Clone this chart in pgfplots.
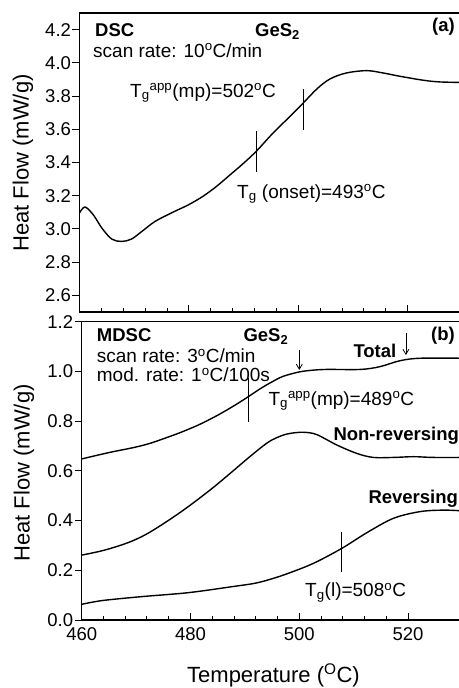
\documentclass[border=0pt]{standalone}
\usepackage{pgfplots}
\pgfplotsset{compat=1.18}
\usepackage{fontspec}
\setmainfont{Liberation Sans}
\usetikzlibrary{arrows.meta}
\newcommand{\fs}[1]{\fontsize{#1}{#1}\selectfont}
\pgfplotsset{
  mystyle/.style={
    scale only axis,
    xmin=460, xmax=530,
    axis line style={line width=1.4pt},
    xtick={460,480,500,520},
    minor x tick num=4,
    xtick pos=bottom, ytick pos=left,
    tick align=inside,
    major tick length=7pt,
    minor tick length=4.5pt,
    every tick/.style={black, line width=1pt},
    ytick style={xshift=-7pt},
    tick label style={font=\fs{18.5}},
    /pgf/number format/assume math mode=true,
    yticklabel style={xshift=-5pt, /pgf/number format/.cd, fixed, fixed zerofill, precision=1},
    xticklabel style={yshift=-4pt},
    clip=false,
  },
  curve/.style={black, line width=1.4pt, smooth, tension=0.55, no markers},
  marker/.style={black, line width=1.1pt, no markers},
  arr/.style={black, line width=0.8pt, no markers, -{Straight Barb[length=5pt,width=6pt]}},
}
\begin{document}
\begin{tikzpicture}
\useasboundingbox (0pt,0pt) rectangle (458pt,-688pt);
% ---------- panel (a)
\begin{axis}[mystyle, at={(79.5pt,-312pt)}, anchor=south west,
  width=382.9pt, height=299pt, ymin=2.5, ymax=4.3,
  ytick={2.6,2.8,3.0,3.2,3.4,3.6,3.8,4.0,4.2}, xticklabels={}]
\addplot[curve] coordinates {
(460,3.096)(461,3.132)(462.5,3.086)(464.1,3.005)(465.9,2.939)(467.7,2.925)
(469.5,2.939)(471.4,2.985)(473.8,3.045)(476.9,3.098)(479.9,3.145)(482.5,3.195)
(485,3.255)(487.5,3.325)(489.8,3.39)(492.3,3.467)(495.4,3.578)(498.5,3.678)
(500.9,3.758)(503.4,3.843)(505.8,3.903)(508.8,3.939)(512.5,3.953)(515.5,3.939)
(518.6,3.919)(522.9,3.895)(525.9,3.885)(530,3.882)};
\addplot[marker] coordinates {(492.3,3.34)(492.3,3.59)};
\addplot[marker] coordinates {(500.9,3.598)(500.9,3.843)};
\end{axis}
% ---------- panel (b)
\begin{axis}[mystyle, at={(81.7pt,-620pt)}, anchor=south west,
  width=380.8pt, height=298.3pt, ymin=0, ymax=1.2,
  ytick={0,0.2,0.4,0.6,0.8,1.0,1.2}]
% Total
\addplot[curve] coordinates {
(460,0.648)(464.9,0.673)(469.8,0.695)(472.6,0.711)(475,0.729)(478,0.753)
(481.5,0.785)(484.5,0.818)(486.7,0.845)(488.6,0.870)(490.6,0.898)(492.8,0.930)
(494.9,0.957)(497,0.980)(499.8,0.997)(502,1.004)(505,1.008)(511.2,1.008)
(514.8,1.019)(518.5,1.043)(522.2,1.053)(530,1.053)};
% Non-reversing
\addplot[curve] coordinates {
(460,0.261)(464,0.280)(468,0.307)(471,0.335)(474,0.373)(478.7,0.442)(483.6,0.523)
(487.3,0.590)(490.9,0.657)(494,0.711)(495.8,0.733)(497.7,0.748)(499.5,0.754)(501,0.755)
(503.2,0.746)(506.9,0.704)(510.6,0.670)(513.6,0.654)(517.3,0.654)(521,0.657)
(524.6,0.654)(530,0.654)};
% Reversing
\addplot[curve] coordinates {
(460,0.063)(463.7,0.078)(471,0.094)(479.6,0.110)(487.6,0.134)(491.9,0.148)
(495,0.166)(498,0.188)(502.6,0.228)(507.8,0.288)(512.4,0.351)(517.3,0.409)
(522.2,0.436)(526.5,0.442)(530,0.439)};
\addplot[marker] coordinates {(490.6,0.798)(490.6,0.972)};
\addplot[marker] coordinates {(507.8,0.194)(507.8,0.355)};
\addplot[arr] coordinates {(500,1.085)(500,1.006)};
\addplot[arr] coordinates {(519.6,1.153)(519.6,1.066)};
\end{axis}
% ---------- texts panel (a)
\node[anchor=base west, inner sep=0, font=\fs{18.5}\bfseries] at (95pt,-36pt) {DSC};
\node[anchor=base west, inner sep=0, font=\fs{18.5}\bfseries] at (255pt,-36pt) {GeS\textsubscript{2}};
\node[anchor=base east, inner sep=0, font=\fs{18.5}\bfseries] at (455pt,-31pt) {(a)};
\node[anchor=base west, inner sep=0, font=\fs{19}] at (93pt,-57pt) {scan rate: 10\textsuperscript{o}C/min};
\node[anchor=base west, inner sep=0, font=\fs{19}] at (130pt,-97pt) {T\textsubscript{g}\textsuperscript{app}(mp)=502\textsuperscript{o}C};
\node[anchor=base west, inner sep=0, font=\fs{19}] at (237pt,-198pt) {T\textsubscript{g} (onset)=493\textsuperscript{o}C};
% ---------- texts panel (b)
\node[anchor=base west, inner sep=0, font=\fs{18.5}\bfseries] at (96.7pt,-341.7pt) {MDSC};
\node[anchor=base west, inner sep=0, font=\fs{18.5}\bfseries] at (243.3pt,-341.7pt) {GeS\textsubscript{2}};
\node[anchor=base east, inner sep=0, font=\fs{18.5}\bfseries] at (455pt,-340pt) {(b)};
\node[anchor=base west, inner sep=0, font=\fs{18.5}\bfseries] at (353.3pt,-357.3pt) {Total};
\node[anchor=base west, inner sep=0, font=\fs{19}] at (96.7pt,-362.7pt) {scan rate: 3\textsuperscript{o}C/min};
\node[anchor=base west, inner sep=0, font=\fs{19}] at (96.7pt,-381.7pt) {mod. rate: 1\textsuperscript{o}C/100s};
\node[anchor=base west, inner sep=0, font=\fs{19}] at (268.3pt,-405pt) {T\textsubscript{g}\textsuperscript{app}(mp)=489\textsuperscript{o}C};
\node[anchor=base west, inner sep=0, font=\fs{18.5}\bfseries] at (333.3pt,-440pt) {Non-reversing};
\node[anchor=base west, inner sep=0, font=\fs{18.5}\bfseries] at (368.3pt,-503.3pt) {Reversing};
\node[anchor=base west, inner sep=0, font=\fs{19}] at (305pt,-596.7pt) {T\textsubscript{g}(l)=508\textsuperscript{o}C};
% ---------- axis labels
\node[rotate=90, font=\fs{22}] at (23pt,-163pt) {Heat Flow (mW/g)};
\node[rotate=90, font=\fs{22}] at (24pt,-473pt) {Heat Flow (mW/g)};
\node[anchor=base, inner sep=0, font=\fs{22}] at (273.5pt,-682pt) {Temperature (\textsuperscript{O}C)};
\end{tikzpicture}
\end{document}
